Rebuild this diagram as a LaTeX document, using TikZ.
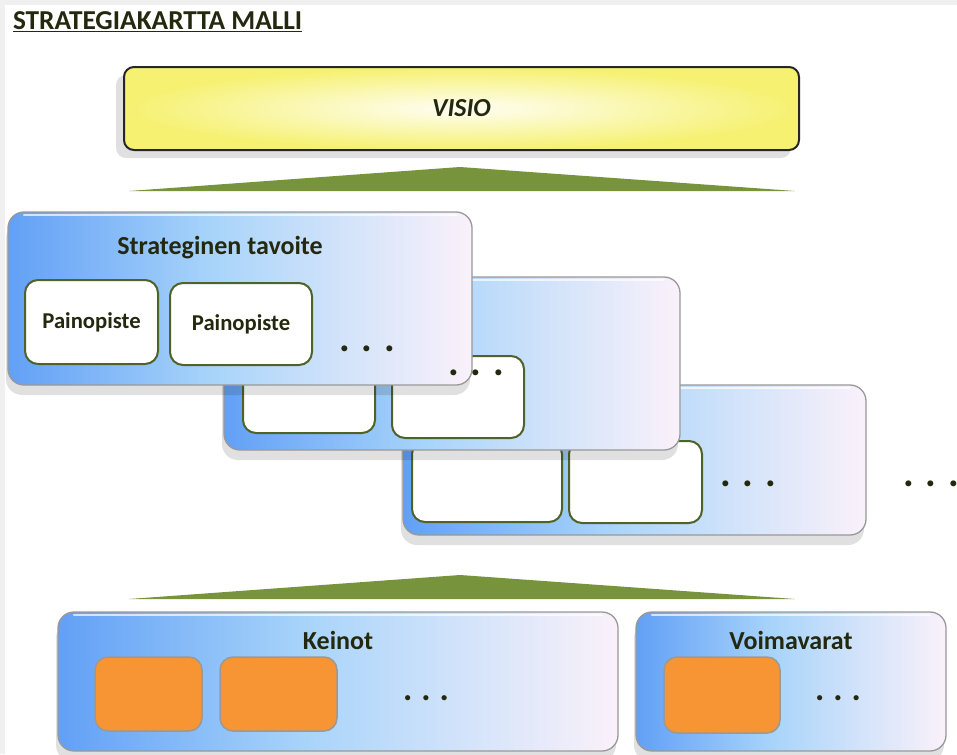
\documentclass[tikz,border=0pt]{standalone}
\usepackage{fontspec}
\setmainfont{Carlito}
\usetikzlibrary{shadows}

% one drawing unit = one pixel of the 957 x 754 layout
\newdimen\px \px=0.75pt

\definecolor{ink}{RGB}{35,40,15}
\definecolor{leaf}{RGB}{119,147,60}
\definecolor{blueA}{RGB}{98,160,246}
\definecolor{blueB}{RGB}{168,212,250}
\definecolor{blueC}{RGB}{250,241,250}
\definecolor{visioY}{RGB}{246,241,112}
\definecolor{orangeF}{RGB}{247,149,52}
\definecolor{rim}{RGB}{79,98,40}

% blue-to-pale fill of the group panels (box spans 25bp..75bp)
\pgfdeclarehorizontalshading{panelshade}{100bp}{%
  color(0bp)=(blueA); color(25bp)=(blueA); color(47bp)=(blueB);
  color(62bp)=(blueC!55!blueB); color(75bp)=(blueC); color(100bp)=(blueC)}

% three heavy dots written as text
\newcommand{\dotrow}[1]{.\hspace{#1}.\hspace{#1}.}

\tikzset{
  every node/.style={inner sep=0pt, outer sep=0pt, text=ink},
  panel/.style={rounded corners=16\px, draw=black!40, line width=1.3\px,
    shading=panelshade,
    drop shadow={shadow xshift=-2\px, shadow yshift=-10\px, fill=black, opacity=0.12}},
  visiobox/.style={rounded corners=10\px, draw=black!85, line width=2\px,
    inner color=white!92!visioY, outer color=visioY,
    drop shadow={shadow xshift=-8\px, shadow yshift=-8\px, fill=black, opacity=0.12},
    font=\fontsize{19.5}{22}\selectfont\bfseries\itshape},
  slot/.style={rounded corners=13\px, fill=white, draw=rim, line width=2\px,
    font=\fontsize{17}{19}\selectfont\bfseries},
  tile/.style={rounded corners=13\px, fill=orangeF, draw=black!40, line width=1.5\px},
  head/.style={font=\fontsize{19.5}{22}\selectfont\bfseries},
  dots/.style={font=\fontsize{30}{32}\selectfont\bfseries, anchor=base},
  smalldots/.style={font=\fontsize{26}{28}\selectfont\bfseries, anchor=base},
  gloss/.style={draw=white, line width=2.5\px, opacity=0.7, line cap=round},
  wedge/.style={fill=leaf}
}

\begin{document}
\begin{tikzpicture}[x=\px, y=-\px]
\useasboundingbox (0,0) rectangle (957,754);
\fill[white] (0,0) rectangle (957,754);
\fill[black!6] (0,0) rectangle (957,5);
\fill[black!6] (0,0) rectangle (5,754);

% heading
\node[anchor=west, font=\fontsize{20.5}{23}\selectfont\bfseries] (title) at (13,22)
  {\underline{STRATEGIAKARTTA MALLI}};

% vision bar and the wedge below it
\node[visiobox, minimum width=675\px, minimum height=83\px, anchor=north west]
  (visio) at (124,67) {VISIO};
\fill[wedge] (129,191) -- (460,167) -- (795,191) -- cycle;

% third goal panel (back)
\node[panel, minimum width=463\px, minimum height=150\px, anchor=north west]
  (goal3) at (403,385) {};
\draw[gloss] (420,388) -- (850,388);
\node[slot, minimum width=150\px, minimum height=81\px, anchor=north west] (g3a) at (412,441) {};
\node[slot, minimum width=133\px, minimum height=82\px, anchor=north west] (g3b) at (569,441) {};

% second goal panel
\node[panel, minimum width=456\px, minimum height=173\px, anchor=north west]
  (goal2) at (224,277) {};
\draw[gloss] (240,280) -- (664,280);
\node[slot, minimum width=132\px, minimum height=80\px, anchor=north west] (g2a) at (243,353) {};
\node[slot, minimum width=132\px, minimum height=82\px, anchor=north west] (g2b) at (392,356) {};

% first goal panel (front)
\node[panel, minimum width=464\px, minimum height=173\px, anchor=north west]
  (goal1) at (8,212) {};
\draw[gloss] (24,215) -- (456,215);
\node[head] (goal1T) at (220,248) {Strateginen tavoite};
\node[slot, minimum width=133\px, minimum height=84\px, anchor=north west] (g1a) at (25,280) {Painopiste};
\node[slot, minimum width=142\px, minimum height=82\px, anchor=north west] (g1b) at (170,283) {Painopiste};

\node[dots] (d1) at (367,351) {\dotrow{8.8pt}};
\node[dots] (d2) at (476,375) {\dotrow{8.8pt}};
\node[dots] (d3) at (748,486) {\dotrow{8.8pt}};
\node[dots] (d4) at (931,486) {\dotrow{8.8pt}};

% lower wedge
\fill[wedge] (129,599) -- (460,575) -- (795,599) -- cycle;

% means and resources
\node[panel, minimum width=560\px, minimum height=139\px, anchor=north west]
  (keinot) at (58,612) {};
\draw[gloss] (74,615) -- (602,615);
\node[head] (keinotT) at (338,640) {Keinot};
\node[tile, minimum width=107\px, minimum height=74\px, anchor=north west] (k1) at (95,657) {};
\node[tile, minimum width=117\px, minimum height=74\px, anchor=north west] (k2) at (220,657) {};
\node[smalldots] (d5) at (426,700) {\dotrow{6.8pt}};

\node[panel, minimum width=310\px, minimum height=139\px, anchor=north west]
  (voima) at (636,612) {};
\draw[gloss] (652,615) -- (930,615);
\node[head] (voimaT) at (791,640) {Voimavarat};
\node[tile, minimum width=116\px, minimum height=76\px, anchor=north west] (v1) at (664,657) {};
\node[smalldots] (d6) at (838,700) {\dotrow{6.8pt}};
\end{tikzpicture}
\end{document}
